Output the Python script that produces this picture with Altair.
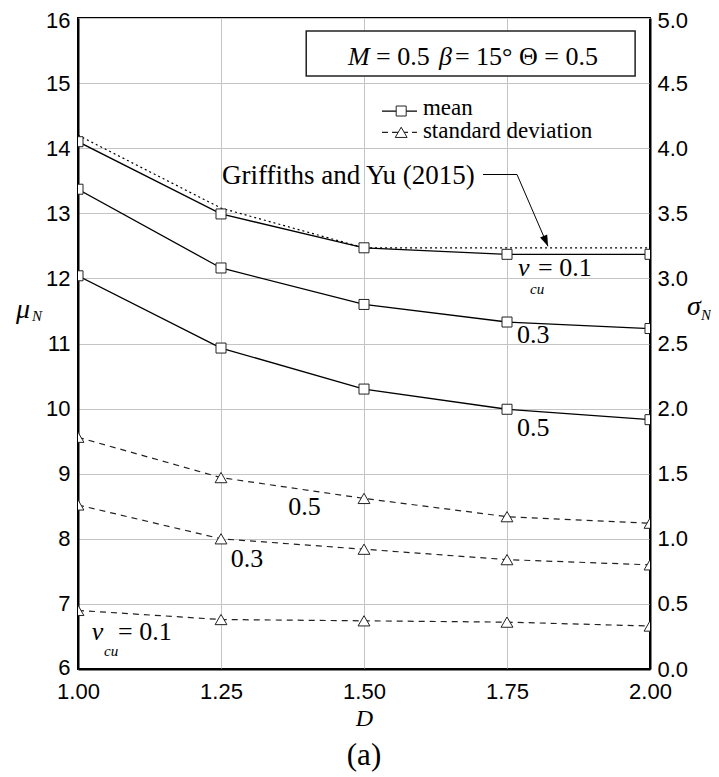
import altair as alt
import pandas as pd

# ---------------- data ----------------
D = [1.00, 1.25, 1.50, 1.75, 2.00]
mean_01 = [14.10, 12.99, 12.47, 12.37, 12.37]
mean_03 = [13.37, 12.16, 11.60, 11.33, 11.23]
mean_05 = [12.04, 10.93, 10.30, 9.99, 9.83]
griffiths_yu = [14.20, 13.08, 12.47, 12.47, 12.47]
sd_01 = [0.45, 0.38, 0.37, 0.36, 0.33]
sd_03 = [1.26, 1.00, 0.92, 0.84, 0.80]
sd_05 = [1.78, 1.47, 1.31, 1.17, 1.12]

x_ticks = [1.00, 1.25, 1.50, 1.75, 2.00]
mu_ticks = [6, 7, 8, 9, 10, 11, 12, 13, 14, 15, 16]
sigma_ticks = [0.0, 0.5, 1.0, 1.5, 2.0, 2.5, 3.0, 3.5, 4.0, 4.5, 5.0]

# annotations (data coordinates: D, mu)
reg_text = ["= 0.5", "= 15\u00b0 \u0398 = 0.5", "mean", "standard deviation",
            "Griffiths and Yu (2015)", "= 0.1", "0.3", "0.5", "0.5", "0.3", "= 0.1"]
reg_D = [1.521, 1.659, 1.603, 1.603, 1.2517, 1.8042, 1.7675, 1.7675, 1.3677, 1.267, 1.0699]
reg_mu = [15.276, 15.276, 14.51, 14.162, 13.447, 12.034, 11.012, 9.583, 8.358, 7.567, 6.444]
reg_fs = [26, 26, 23, 23, 27, 26, 26, 26, 26, 26, 26]

ita_text = ["M", "\u03b2", "\u03bd", "\u03bd", "cu", "cu"]
ita_D = [1.472, 1.631, 1.7692, 1.024, 1.7902, 1.0455]
ita_mu = [15.276, 15.276, 12.034, 6.444, 11.763, 6.199]
ita_fs = [26, 26, 26, 26, 15, 15]

box_D, box_D2, box_mu, box_mu2 = [1.399], [1.974], [15.80], [15.11]
leg_D, leg_D2, leg_mark_D = [1.5315], [1.5927], [1.565]
leg_mean_mu, leg_sd_mu = [14.571], [14.244]
arrow_D = [1.708, 1.7675, 1.8217]
arrow_mu = [13.596, 13.596, 12.493]

# ---------------- tables ----------------
mean_df = pd.DataFrame({
    "D": D * 3,
    "mu": mean_01 + mean_03 + mean_05,
    "series": ["0.1"] * 5 + ["0.3"] * 5 + ["0.5"] * 5,
})
gy_df = pd.DataFrame({"D": D, "mu": griffiths_yu})
sd_df = pd.DataFrame({
    "D": D * 3,
    "sigma": sd_01 + sd_03 + sd_05,
    "series": ["0.1"] * 5 + ["0.3"] * 5 + ["0.5"] * 5,
})
reg_df = pd.DataFrame({"t": reg_text, "D": reg_D, "mu": reg_mu, "fs": reg_fs})
ita_df = pd.DataFrame({"t": ita_text, "D": ita_D, "mu": ita_mu, "fs": ita_fs})
box_df = pd.DataFrame({"D": box_D, "D2": box_D2, "mu": box_mu, "mu2": box_mu2})
leg_line_df = pd.DataFrame({"D": leg_D * 2, "D2": leg_D2 * 2,
                            "mu": leg_mean_mu + leg_sd_mu, "kind": ["mean", "sd"]})
leg_sq_df = pd.DataFrame({"D": leg_mark_D, "mu": leg_mean_mu})
leg_tri_df = pd.DataFrame({"D": leg_mark_D, "mu": leg_sd_mu})
arrow_df = pd.DataFrame({"D": arrow_D, "mu": arrow_mu, "o": [0, 1, 2]})
tip_df = pd.DataFrame({"D": arrow_D[-1:], "mu": arrow_mu[-1:]})

SERIF = "Liberation Serif"
SANS = "Liberation Sans"

x_axis = alt.Axis(values=x_ticks, format=".2f", grid=True, labelFlush=False,
                  labelOverlap=False, labelPadding=12, title="D",
                  titleFont=SERIF, titleFontStyle="italic", titleFontSize=24,
                  titleFontWeight="normal", titleBaseline="alphabetic",
                  titleY=56, titleX=286, titleColor="black")
x_enc = alt.X("D:Q", scale=alt.Scale(domain=[1, 2], nice=False), axis=x_axis)
y_left = alt.Y("mu:Q", scale=alt.Scale(domain=[6, 16], nice=False),
               axis=alt.Axis(values=mu_ticks, format="d", grid=True,
                             labelOverlap=False, labelPadding=8, title=None,
                             labelOffset={"condition": [
                                 {"test": "datum.value == 16", "value": 2},
                                 {"test": "datum.value == 6", "value": -2}],
                                 "value": 0}))
y_right = alt.Y("sigma:Q", scale=alt.Scale(domain=[0, 5], nice=False),
                axis=alt.Axis(values=sigma_ticks, format=".1f", grid=False,
                              orient="right", labelOverlap=False,
                              labelPadding=7, title=None,
                              labelOffset=alt.condition("datum.value == 5",
                                                        alt.value(2), alt.value(0))))

mean_lines = alt.Chart(mean_df).mark_line(color="black", strokeWidth=1.3, clip=True).encode(
    x=x_enc, y=y_left, detail="series:N")
mean_pts = alt.Chart(mean_df).mark_point(shape="square", filled=True, fill="white",
                                         stroke="#222", strokeWidth=1, size=100,
                                         opacity=1, clip=True).encode(x=x_enc, y=y_left)
gy_line = alt.Chart(gy_df).mark_line(color="black", strokeWidth=1.2,
                                     strokeDash=[2, 3], clip=True).encode(x=x_enc, y=y_left)
box = alt.Chart(box_df).mark_rect(fill="white", stroke="#222", strokeWidth=1.5).encode(
    x=x_enc, x2="D2:Q", y=y_left, y2="mu2:Q")
leg_mean_rule = alt.Chart(leg_line_df[leg_line_df.kind == "mean"]).mark_rule(
    color="black", strokeWidth=1.2).encode(x=x_enc, x2="D2:Q", y=y_left)
leg_sd_rule = alt.Chart(leg_line_df[leg_line_df.kind == "sd"]).mark_rule(
    color="#222", strokeWidth=1.2, strokeDash=[6, 4]).encode(x=x_enc, x2="D2:Q", y=y_left)
leg_sq = alt.Chart(leg_sq_df).mark_point(shape="square", filled=True, fill="white",
                                         stroke="#222", strokeWidth=1, size=100,
                                         opacity=1).encode(x=x_enc, y=y_left)
leg_tri = alt.Chart(leg_tri_df).mark_point(shape="triangle-up", filled=True, fill="white",
                                           stroke="#222", strokeWidth=1, size=140,
                                           opacity=1).encode(x=x_enc, y=y_left)
reg_txt = alt.Chart(reg_df).mark_text(font=SERIF, align="left", baseline="alphabetic",
                                      color="black").encode(
    x=x_enc, y=y_left, text="t:N", size=alt.Size("fs:Q", scale=None))
ita_txt = alt.Chart(ita_df).mark_text(font=SERIF, fontStyle="italic", align="left",
                                      baseline="alphabetic", color="black").encode(
    x=x_enc, y=y_left, text="t:N", size=alt.Size("fs:Q", scale=None))
arrow = alt.Chart(arrow_df).mark_line(color="black", strokeWidth=1).encode(
    x=x_enc, y=y_left, order="o:Q")
tip = alt.Chart(tip_df).mark_point(shape="M0,0 L-0.35,-1 L0.35,-1 Z", filled=True,
                                   color="black", size=500, angle=337,
                                   opacity=1).encode(x=x_enc, y=y_left)

# axis titles with subscripts
def ptext(t, px, py, fs, style="italic", align="left"):
    return alt.Chart(pd.DataFrame({"t": [t]})).mark_text(
        font=SERIF, fontStyle=style, fontSize=fs, align=align,
        baseline="alphabetic", color="black").encode(
        text="t:N", x=alt.value(px), y=alt.value(py))

titles = [ptext("\u03bc", -62, 300, 28), ptext("N", -46, 303, 15),
          ptext("\u03c3", 609, 297, 28), ptext("N", 623, 302, 15),
          ptext("(a)", 286, 747, 31, style="normal", align="center")]

left = alt.layer(mean_lines, gy_line, mean_pts, box, leg_mean_rule, leg_sd_rule,
                 leg_sq, leg_tri, reg_txt, ita_txt, arrow, tip, *titles)

sd_lines = alt.Chart(sd_df).mark_line(color="#222", strokeWidth=1.2,
                                      strokeDash=[6, 5], clip=True).encode(
    x=x_enc, y=y_right, detail="series:N")
sd_pts = alt.Chart(sd_df).mark_point(shape="triangle-up", filled=True, fill="white",
                                     stroke="#222", strokeWidth=1, size=140,
                                     opacity=1, clip=True).encode(x=x_enc, y=y_right)
right = alt.layer(sd_lines, sd_pts)

chart = alt.layer(left, right).resolve_scale(y="independent").properties(
    width=572, height=651,
    autosize=alt.AutoSizeParams(type="none"),
    padding={"left": 70, "top": 10, "right": 61, "bottom": 110},
    background="white",
).configure_view(stroke="black", strokeWidth=2).configure_axis(
    labelFont=SANS, labelFontSize=22, labelColor="black",
    gridColor="#c4c4c4", gridWidth=1, domainColor="black", domainWidth=2,
    ticks=False,
)

chart.save("out.html", embed_options={"renderer": "svg", "actions": False})
